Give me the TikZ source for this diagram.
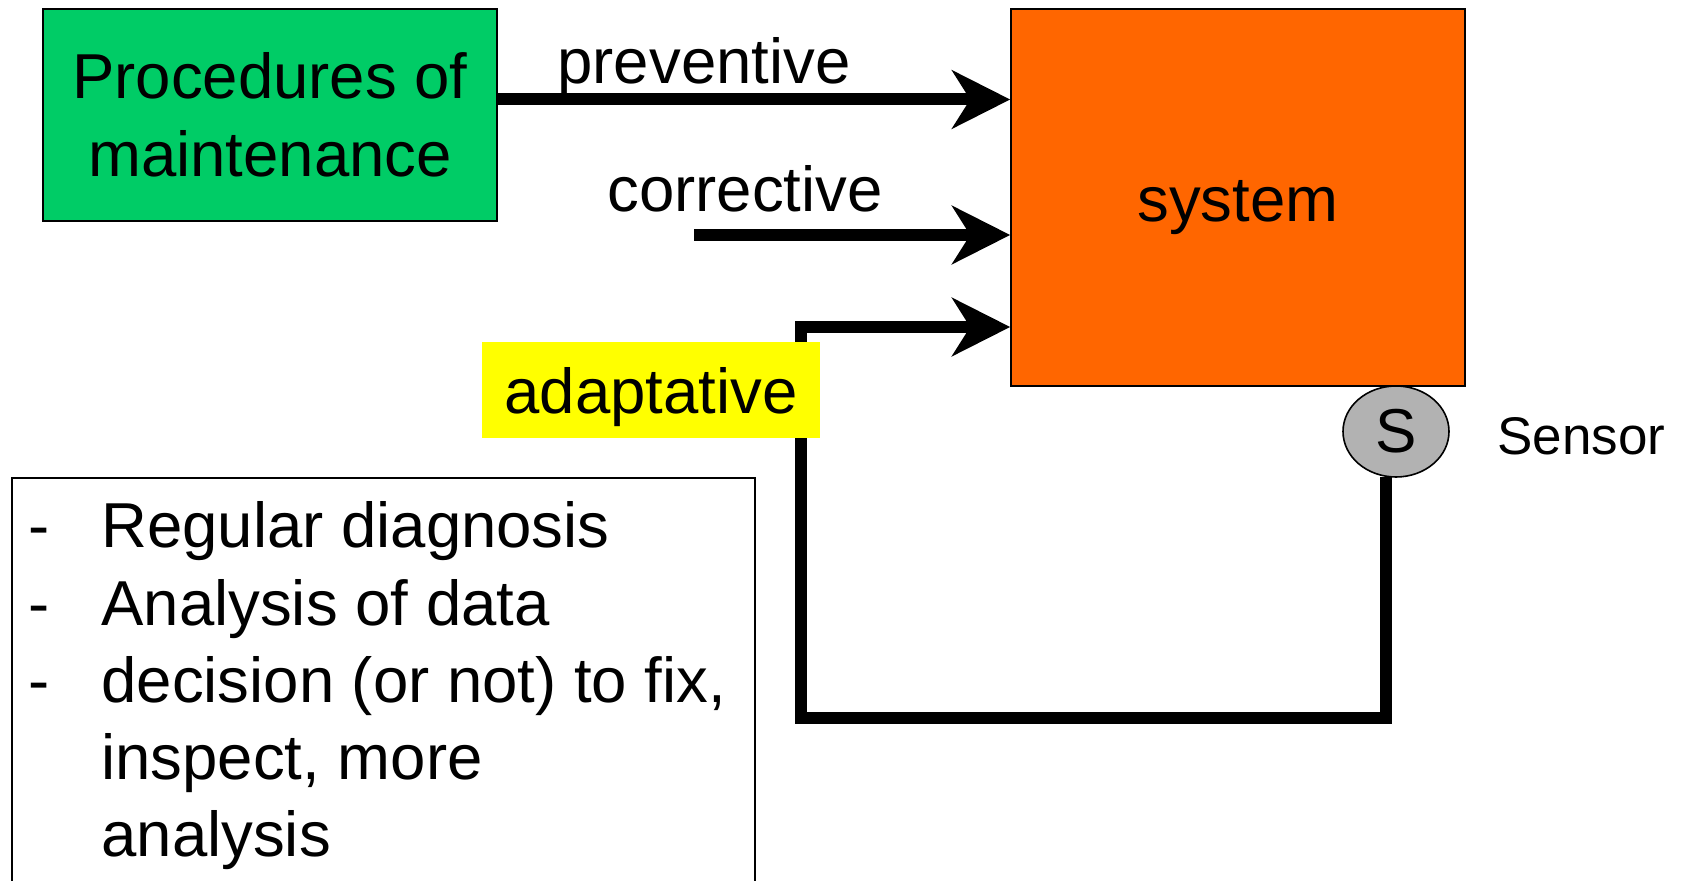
\documentclass[tikz,border=0pt]{standalone}
\usepackage{fontspec}
\setmainfont{Liberation Sans}
\usetikzlibrary{arrows.meta, shapes.geometric}

\definecolor{procgreen}{RGB}{0,204,102}
\definecolor{sysorange}{RGB}{255,102,0}
\definecolor{sensorgray}{RGB}{178,178,178}
\definecolor{tagyellow}{RGB}{255,255,0}

\newcommand{\bigtext}{\fontsize{31.75}{39}\selectfont}

\tikzset{
	block/.style = {draw, line width = 0.8pt, inner sep = 0pt, align = center},
	flow/.style = {->, line width = 6pt},
	lbl/.style = {inner sep = 0pt, anchor = base},
}

\begin{document}
\begin{tikzpicture}[x = 0.5pt, y = -0.5pt, font = \bigtext,
	> = {Stealth[length = 29pt, width = 29pt, inset = 9pt]}]

	\useasboundingbox (0, 0) rectangle (1686, 881);

	\node [block, fill = procgreen, minimum width = 227pt, minimum height = 106pt] (proc) at (270, 115) {Procedures of\\maintenance};
	\node [block, fill = sysorange, minimum width = 227pt, minimum height = 188.5pt, text height = 24pt, text depth = 0pt] (sys) at (1238, 197.5) {system};
	\node [block, ellipse, fill = sensorgray, minimum width = 53pt, minimum height = 45.5pt, font = \fontsize{31}{37}\selectfont] (sensor) at (1396, 431.5) {S};
	\node [lbl, anchor = base west, font = \fontsize{26.5}{32}\selectfont] (sensorname) at (1497, 455) {Sensor};

	\node [lbl] (prevlabel) at (704, 84) {preventive};
	\node [lbl] (corrlabel) at (745, 212) {corrective};

	% inputs of the system
	\coordinate (prevstart) at ([yshift = 7.75pt] proc.east);
	\coordinate (corrstart) at (694, 235);
	\coordinate (bend) at (801, 718);
	\coordinate (adaptend) at ([yshift = -64.75pt] sys.west);

	\draw [flow] (prevstart) -- (prevstart -| sys.west);
	\draw [flow] (corrstart) -- (corrstart -| sys.west);
	\draw [flow, line join = miter] (sensor.258) |- (bend) |- (adaptend);

	\node [fill = tagyellow, inner sep = 0pt, minimum width = 169pt, minimum height = 48pt, text depth = 0pt] (adapt) at (651, 390) {adaptative};

	% list of tasks
	\node [draw, line width = 0.8pt, inner sep = 0pt, anchor = north west, minimum width = 371.5pt, minimum height = 210pt] (listbox) at (11, 477) {};
	\foreach \i in {1, 2, 3}
		\node [lbl, anchor = base west] (dash\i) at (28, {471 + 77*\i}) {-};
	\foreach \i/\txt in {1/Regular diagnosis, 2/Analysis of data, 3/{decision (or not) to fix,}, 4/{inspect, more}, 5/analysis}
		\node [lbl, anchor = base west] (item\i) at (101, {471 + 77*\i}) {\txt};

\end{tikzpicture}
\end{document}
